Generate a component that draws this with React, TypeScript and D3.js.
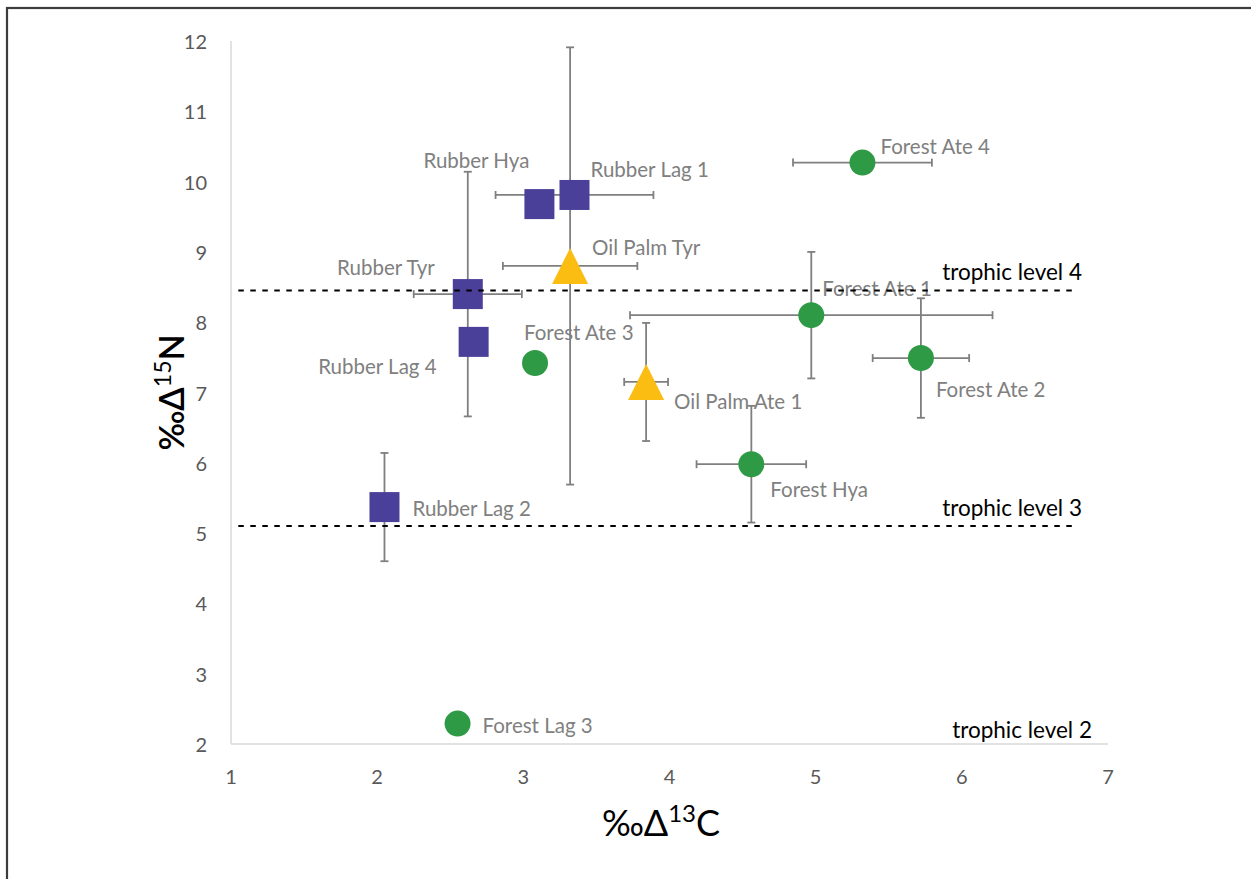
import React from "react";
import * as d3 from "d3";

// ---- data ----
const names = [
  "Rubber Hya", "Rubber Lag 1", "Rubber Tyr", "Rubber Lag 4", "Rubber Lag 2",
  "Oil Palm Tyr", "Oil Palm Ate 1",
  "Forest Ate 4", "Forest Ate 1", "Forest Ate 2", "Forest Hya", "Forest Ate 3", "Forest Lag 3",
];
const landUse = [
  "Rubber", "Rubber", "Rubber", "Rubber", "Rubber",
  "Oil Palm", "Oil Palm",
  "Forest", "Forest", "Forest", "Forest", "Forest", "Forest",
];
const d13C = [3.11, 3.35, 2.62, 2.66, 2.05, 3.32, 3.84, 5.32, 4.97, 5.72, 4.56, 3.08, 2.55];
const d15N = [9.68, 9.81, 8.40, 7.72, 5.37, 8.80, 7.15, 10.27, 8.10, 7.49, 5.98, 7.42, 2.29];
const errC = [0, 0.54, 0.37, 0, 0, 0.46, 0.15, 0.475, 1.24, 0.33, 0.375, 0, 0];
const errN = [0, 0, 1.74, 0, 0.77, 3.11, 0.84, 0, 0.9, 0.85, 0.83, 0, 0];

const trophicNames = ["trophic level 4", "trophic level 3", "trophic level 2"];
const trophicValues = [8.45, 5.1, 2.0];
const trophicLineFrom = 1.05;
const trophicLineTo = 6.77;

const xTicks = [1, 2, 3, 4, 5, 6, 7];
const yTicks = [2, 3, 4, 5, 6, 7, 8, 9, 10, 11, 12];

// ---- layout / style ----
const W = 1251;
const H = 879;
const FONT = "Lato, 'Open Sans', sans-serif";
const colors: Record<string, string> = {
  Rubber: "#4a3f99",
  "Oil Palm": "#fbbd12",
  Forest: "#2e9a45",
};
// label placement relative to the marker (pixels)
const labelPlace: Record<string, [number, number, string]> = {
  "Rubber Hya": [-63, -44, "middle"],
  "Rubber Lag 1": [16, -26, "start"],
  "Rubber Tyr": [-33, -27, "end"],
  "Rubber Lag 4": [-37, 24, "end"],
  "Rubber Lag 2": [28, 1, "start"],
  "Oil Palm Tyr": [22, -19, "start"],
  "Oil Palm Ate 1": [28, 19, "start"],
  "Forest Ate 4": [18, -17, "start"],
  "Forest Ate 1": [11, -27, "start"],
  "Forest Ate 2": [15, 31, "start"],
  "Forest Hya": [19, 25, "start"],
  "Forest Ate 3": [-11, -31, "start"],
  "Forest Lag 3": [25, 1, "start"],
};

export default function App() {
  const x = d3.scaleLinear().domain([1, 7]).range([231, 1108]);
  const y = d3.scaleLinear().domain([2, 12]).range([744, 41]);
  const cap = 4;
  const ebColor = "#7f7f7f";

  const sym = (g: string) => {
    if (g === "Rubber") return d3.symbol(d3.symbolSquare, 900)();
    if (g === "Oil Palm") {
      const p = d3.path();
      p.moveTo(0, -18);
      p.lineTo(18, 18);
      p.lineTo(-18, 18);
      p.closePath();
      return p.toString();
    }
    return d3.symbol(d3.symbolCircle, 531)();
  };

  const idx = names.map((_, i) => i);

  return (
    <svg
      width={W}
      height={H}
      style={{ position: "absolute", left: 0, top: 0, background: "#fff" }}
      fontFamily={FONT}
    >
      <rect x={0} y={0} width={W} height={H} fill="#fff" />
      <rect x={7} y={8} width={W + 20} height={H + 20} fill="none" stroke="#3c3c3c" strokeWidth={2.2} />

      {/* axes */}
      <line x1={x(1)} x2={x(1)} y1={y(12)} y2={y(2)} stroke="#d9d9d9" strokeWidth={1.5} />
      <line x1={x(1)} x2={x(7)} y1={y(2)} y2={y(2)} stroke="#d9d9d9" strokeWidth={1.5} />
      {xTicks.map((t) => (
        <text key={"xt" + t} x={x(t)} y={776} textAnchor="middle" dominantBaseline="central" fontSize={20} fill="#595959">
          {t}
        </text>
      ))}
      {yTicks.map((t) => (
        <text key={"yt" + t} x={207} y={y(t)} textAnchor="end" dominantBaseline="central" fontSize={20} fill="#595959">
          {t}
        </text>
      ))}

      {/* axis titles */}
      <text x={661} y={836} textAnchor="middle" fontSize={36} fill="#000">
        ‰Δ<tspan fontSize={24} dy={-14}>13</tspan>
        <tspan dy={14}>C</tspan>
      </text>
      <text
        transform={`translate(184, ${(y(12) + y(2)) / 2}) rotate(-90)`}
        textAnchor="middle"
        fontSize={34}
        fontWeight={600}
        fill="#000"
      >
        ‰Δ<tspan fontSize={23} fontWeight={400} dy={-13}>15</tspan>
        <tspan dy={13}>N</tspan>
      </text>

      {/* error bars */}
      {idx.map((i) => {
        const cx = x(d13C[i]);
        const cy = y(d15N[i]);
        const parts: JSX.Element[] = [];
        if (errC[i] > 0) {
          const x0 = x(d13C[i] - errC[i]);
          const x1 = x(d13C[i] + errC[i]);
          parts.push(
            <g key="h">
              <line x1={x0} x2={x1} y1={cy} y2={cy} />
              <line x1={x0} x2={x0} y1={cy - cap} y2={cy + cap} />
              <line x1={x1} x2={x1} y1={cy - cap} y2={cy + cap} />
            </g>
          );
        }
        if (errN[i] > 0) {
          const y0 = y(d15N[i] - errN[i]);
          const y1 = y(d15N[i] + errN[i]);
          parts.push(
            <g key="v">
              <line x1={cx} x2={cx} y1={y0} y2={y1} />
              <line x1={cx - cap} x2={cx + cap} y1={y0} y2={y0} />
              <line x1={cx - cap} x2={cx + cap} y1={y1} y2={y1} />
            </g>
          );
        }
        return (
          <g key={"eb" + i} stroke={ebColor} strokeWidth={1.8}>
            {parts}
          </g>
        );
      })}

      {/* markers */}
      {idx.map((i) => (
        <path
          key={"m" + i}
          d={sym(landUse[i]) || ""}
          transform={`translate(${x(d13C[i])}, ${y(d15N[i])})`}
          fill={colors[landUse[i]]}
        />
      ))}

      {/* data labels */}
      {idx.map((i) => {
        const [dx, dy, anchor] = labelPlace[names[i]];
        return (
          <text
            key={"l" + i}
            x={x(d13C[i]) + dx}
            y={y(d15N[i]) + dy}
            textAnchor={anchor as any}
            dominantBaseline="central"
            fontSize={20.5}
            fill="#808080"
          >
            {names[i]}
          </text>
        );
      })}

      {/* trophic level lines */}
      {trophicValues.map((v, i) =>
        v > 2 ? (
          <line
            key={"tl" + i}
            x1={x(trophicLineFrom)}
            x2={x(trophicLineTo)}
            y1={y(v)}
            y2={y(v)}
            stroke="#000"
            strokeWidth={2}
            strokeDasharray="5.5 6.5"
          />
        ) : null
      )}
      {trophicValues.map((v, i) => (
        <text
          key={"tt" + i}
          x={v > 2 ? 1082 : 1092}
          y={y(v) - (v > 2 ? 19 : 15)}
          textAnchor="end"
          dominantBaseline="central"
          fontSize={22.5}
          fill="#000"
        >
          {trophicNames[i]}
        </text>
      ))}
    </svg>
  );
}
